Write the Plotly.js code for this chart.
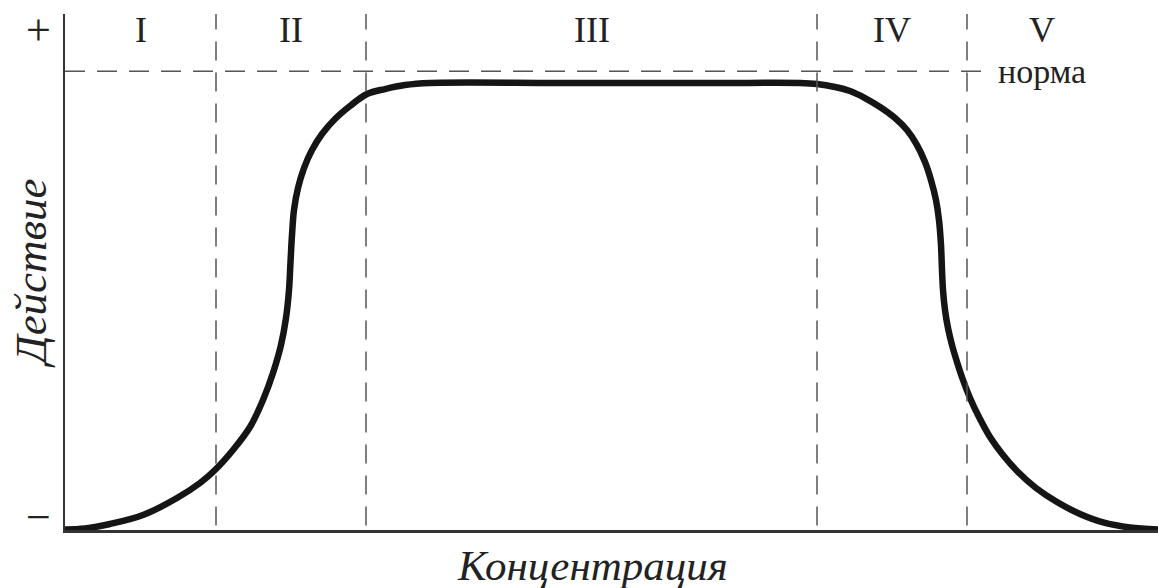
<!DOCTYPE html>
<html>
<head>
<meta charset="utf-8">
<script src="https://cdn.plot.ly/plotly-3.0.1.min.js"></script>
<style>html,body{margin:0;padding:0;background:#fff;}#chart{width:1158px;height:588px;}</style>
</head>
<body>
<div id="chart"></div>
<script>
// Curve (x: concentration, y: effect; norma = 100)
const curveX = [0, 20, 45, 78, 112, 135, 150, 168, 185, 198, 208, 216, 221, 224, 225.5, 227, 229, 233, 239, 247, 257, 270, 285, 302, 320, 340, 365,
  500, 650, 735,
  752, 770, 785, 800, 815, 830, 842, 852, 860, 866, 871, 874, 876, 877, 878, 880, 883, 887, 892, 898, 905, 914, 925, 938, 953, 971, 992, 1015, 1040, 1065, 1093];
const curveY = [0.11, 0.33, 1.31, 3.27, 6.98, 10.25, 13.08, 17.44, 22.45, 28.34, 34.23, 40.33, 46.22, 52.32, 58.43, 64.31, 69.76, 74.56, 78.92, 82.84, 86.33, 89.60, 92.43, 95.05, 96.14, 97.01, 97.45,
  97.45, 97.45, 97.45,
  97.23, 96.58, 95.71, 94.18, 92.22, 89.82, 87.20, 83.93, 80.23, 76.30, 71.94, 67.58, 62.13, 56.68, 52.32, 47.96, 44.04, 40.33, 36.63, 32.70, 28.78, 24.63, 20.27, 16.35, 12.64, 9.16, 6.10, 3.49, 1.53, 0.55, 0.11];
const normaLevel = 100;
const zoneEdges = [0, 151, 301, 752, 902, 1052];
const zoneLabels = ['I', 'II', 'III', 'IV', 'V'];
const signLabels = ['+', '\u2212'];
const signValues = [109, 2.8];
const normaLabel = 'норма';
const xTitle = 'Концентрация';
const yTitle = 'Действие';

const serif = 'Liberation Serif, Times New Roman, serif';
const dashGray = '#555555';

const shapes = [];
for (let i = 1; i < zoneEdges.length - 1; i++) {
  shapes.push({type: 'line', xref: 'x', yref: 'y', x0: zoneEdges[i], x1: zoneEdges[i], y0: 1, y1: 112.5,
    line: {color: dashGray, width: 1.5, dash: '19px,12px'}});
}
shapes.push({type: 'line', xref: 'x', yref: 'y', x0: 0, x1: 925, y0: normaLevel, y1: normaLevel,
  line: {color: dashGray, width: 1.5, dash: '20px,12px'}});

const annotations = [];
for (let i = 0; i < zoneLabels.length; i++) {
  annotations.push({x: (zoneEdges[i] + zoneEdges[i + 1]) / 2, y: 109, xref: 'x', yref: 'y', text: zoneLabels[i],
    showarrow: false, xanchor: 'center', yanchor: 'middle', font: {family: serif, size: 36, color: '#222'}});
}
annotations.push({x: 931, y: normaLevel, xref: 'x', yref: 'y', text: normaLabel, showarrow: false,
  xanchor: 'left', yanchor: 'middle', font: {family: serif, size: 34, color: '#222'}});
for (let i = 0; i < signLabels.length; i++) {
  annotations.push({x: -0.0247, y: signValues[i], xref: 'paper', yref: 'y', text: signLabels[i], showarrow: false,
    xanchor: 'center', yanchor: 'middle', font: {family: serif, size: 44, color: '#222'}});
}
annotations.push({x: (592 - 65) / 1093, y: (530 - 565) / 516, xref: 'paper', yref: 'paper', text: '<i>' + xTitle + '</i>', showarrow: false,
  xanchor: 'center', yanchor: 'middle', font: {family: serif, size: 43, color: '#222'}});
annotations.push({x: (31 - 65) / 1093, y: (530 - 273) / 516, xref: 'paper', yref: 'paper', text: '<i>' + yTitle + '</i>', showarrow: false,
  textangle: -90, xanchor: 'center', yanchor: 'middle', font: {family: serif, size: 45, color: '#222'}});

const trace = {x: curveX, y: curveY, type: 'scatter', mode: 'lines',
  line: {color: '#151515', width: 6.5, shape: 'spline', smoothing: 1}, hoverinfo: 'skip'};

const layout = {
  width: 1158, height: 588,
  margin: {l: 65, r: 0, t: 14, b: 58},
  paper_bgcolor: '#fff', plot_bgcolor: '#fff',
  showlegend: false,
  xaxis: {range: [0, 1093], showgrid: false, zeroline: false, showticklabels: false, ticks: '',
    showline: true, linecolor: '#333', linewidth: 2.5, fixedrange: true},
  yaxis: {range: [0, 112.5], showgrid: false, zeroline: false, showticklabels: false, ticks: '',
    showline: true, linecolor: '#333', linewidth: 2.5, fixedrange: true},
  shapes: shapes,
  annotations: annotations
};

Plotly.newPlot('chart', [trace], layout, {staticPlot: true, displayModeBar: false});
</script>
</body>
</html>
